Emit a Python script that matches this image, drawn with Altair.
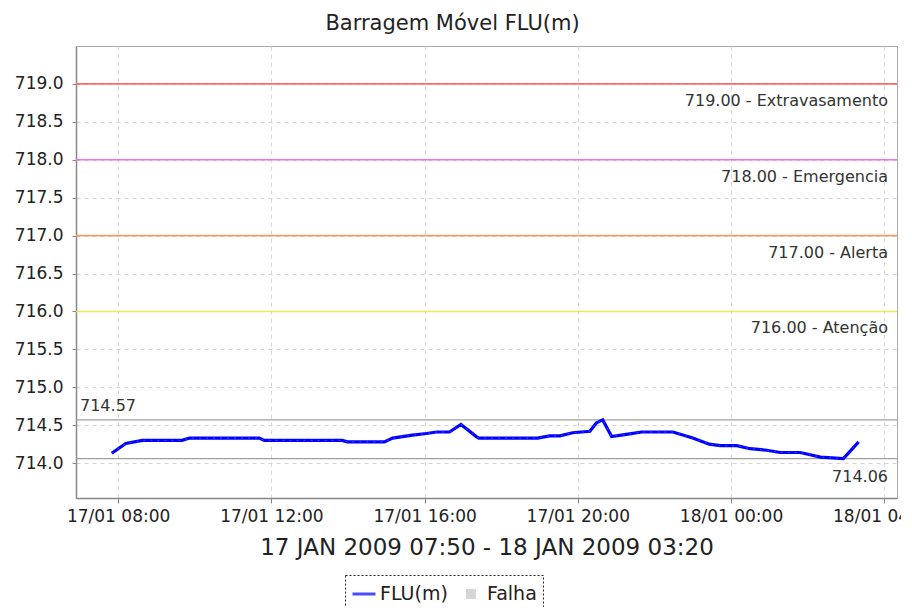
import altair as alt
import pandas as pd

# ---- data ----
times = [
    "2009-01-17T07:50", "2009-01-17T08:12", "2009-01-17T08:38", "2009-01-17T09:40",
    "2009-01-17T09:52", "2009-01-17T11:41", "2009-01-17T11:49", "2009-01-17T13:51",
    "2009-01-17T13:59", "2009-01-17T14:57", "2009-01-17T15:10", "2009-01-17T15:41",
    "2009-01-17T16:03", "2009-01-17T16:19", "2009-01-17T16:39", "2009-01-17T16:57",
    "2009-01-17T17:21", "2009-01-17T17:25", "2009-01-17T18:57", "2009-01-17T19:16",
    "2009-01-17T19:32", "2009-01-17T19:52", "2009-01-17T20:19", "2009-01-17T20:29",
    "2009-01-17T20:39", "2009-01-17T20:53", "2009-01-17T21:16", "2009-01-17T21:40",
    "2009-01-17T22:29", "2009-01-17T23:00", "2009-01-17T23:26", "2009-01-17T23:43",
    "2009-01-18T00:09", "2009-01-18T00:30", "2009-01-18T00:56", "2009-01-18T01:17",
    "2009-01-18T01:48", "2009-01-18T02:04", "2009-01-18T02:20", "2009-01-18T02:56",
    "2009-01-18T03:20",
]
levels = [
    714.13, 714.26, 714.30, 714.30,
    714.33, 714.33, 714.30, 714.30,
    714.28, 714.28, 714.33, 714.37,
    714.39, 714.41, 714.41, 714.51,
    714.35, 714.33, 714.33, 714.36,
    714.36, 714.40, 714.42, 714.53,
    714.57, 714.35, 714.38, 714.41,
    714.41, 714.33, 714.25, 714.23,
    714.23, 714.19, 714.17, 714.14,
    714.14, 714.11, 714.08, 714.06,
    714.28,
]

threshold_values = [719.0, 718.0, 717.0, 716.0]
threshold_labels = ["719.00 - Extravasamento", "718.00 - Emergencia", "717.00 - Alerta", "716.00 - Atenção"]
threshold_colors = ["#ff6a6a", "#f070f0", "#f4a068", "#f4e450"]

max_value, min_value = 714.57, 714.06
legend_items = ["FLU(m)", "Falha"]
legend_colors = ["#0000ff", "#c4c4c4"]

x_start = "2009-01-17T06:54"
x_end = "2009-01-18T04:20"

FONT = "DejaVu Sans"

df = pd.DataFrame({"t": times, "v": levels})
thr = pd.DataFrame({"v": threshold_values, "label": threshold_labels,
                    "color": threshold_colors, "t": [x_end] * 4})
extremes = pd.DataFrame({"v": [max_value, min_value],
                         "label": [f"{max_value:.2f}", f"{min_value:.2f}"],
                         "t": [x_start, x_end]})
leg = pd.DataFrame({"serie": legend_items})

x_scale = alt.Scale(domain=[alt.DateTime(year=2009, month=1, date=17, hours=6, minutes=54),
                            alt.DateTime(year=2009, month=1, date=18, hours=4, minutes=20)])
y_scale = alt.Scale(domain=[713.54, 719.5], nice=False, zero=False)

tick_vals = [alt.DateTime(year=2009, month=1, date=17, hours=h) for h in (8, 12, 16, 20)] + \
            [alt.DateTime(year=2009, month=1, date=18, hours=h) for h in (0, 4)]

x_axis = alt.Axis(values=tick_vals, format="%d/%m %H:%M",
                  title="17 JAN 2009 07:50 - 18 JAN 2009 03:20",
                  titleFontSize=23, titleFont=FONT, titleFontWeight="normal",
                  titleColor="#222", titlePadding=12,
                  labelFontSize=17, labelFont=FONT, labelColor="#222",
                  labelPadding=5, tickSize=5, labelFlush=False)
y_axis = alt.Axis(values=[714 + 0.5 * i for i in range(11)], format=".1f", title=None,
                  labelFontSize=17, labelFont=FONT, labelColor="#222",
                  labelPadding=9, tickSize=4)

base_x = alt.X("t:T", scale=x_scale, axis=x_axis)
base_y = alt.Y("v:Q", scale=y_scale, axis=y_axis)

ext_rules = alt.Chart(extremes).mark_rule(color="#a0a0a0", strokeWidth=1.3).encode(
    y=alt.Y("v:Q", scale=y_scale))

thr_rules = alt.Chart(thr).mark_rule(strokeWidth=1.6).encode(
    y=alt.Y("v:Q", scale=y_scale),
    color=alt.Color("color:N", scale=None))

thr_text = alt.Chart(thr).mark_text(align="right", baseline="middle", dx=-9, dy=17,
                                    fontSize=16, font=FONT, color="#333").encode(
    x=alt.X("t:T", scale=x_scale), y=alt.Y("v:Q", scale=y_scale), text="label:N")

max_text = alt.Chart(extremes.iloc[[0]]).mark_text(align="left", baseline="middle", dx=4, dy=-14,
                                                   fontSize=16, font=FONT, color="#333").encode(
    x=alt.X("t:T", scale=x_scale), y=alt.Y("v:Q", scale=y_scale), text="label:N")
min_text = alt.Chart(extremes.iloc[[1]]).mark_text(align="right", baseline="middle", dx=-9, dy=18,
                                                   fontSize=16, font=FONT, color="#333").encode(
    x=alt.X("t:T", scale=x_scale), y=alt.Y("v:Q", scale=y_scale), text="label:N")

line = alt.Chart(df).mark_line(color="#0000ff", strokeWidth=3.2).encode(x=base_x, y=base_y)
line_dots = alt.Chart(df).mark_line(color="#5050ff", strokeWidth=0.8, strokeDash=[2, 5]).encode(
    x=alt.X("t:T", scale=x_scale), y=alt.Y("v:Q", scale=y_scale))

legend_layer = alt.Chart(leg).mark_point(filled=False, strokeWidth=3).encode(
    x=alt.X("t:T", scale=x_scale),
    color=alt.Color("serie:N", scale=alt.Scale(domain=legend_items, range=legend_colors),
                    legend=alt.Legend(title=None, orient="none", direction="horizontal",
                                      legendX=269, legendY=529)),
    shape=alt.Shape("serie:N", scale=alt.Scale(domain=legend_items,
                                               range=["M-1,0H1",
                                                      "M-0.3,-0.3H0.3V0.3H-0.3Z M-0.1,-0.1H0.1V0.1H-0.1Z"]),
                    legend=alt.Legend(title=None, orient="none", direction="horizontal",
                                      legendX=269, legendY=529)),
).transform_filter("false")

chart = alt.layer(
    ext_rules, thr_rules, line, line_dots, thr_text, max_text, min_text, legend_layer
).properties(
    width=821, height=452,
    title=alt.TitleParams("Barragem Móvel FLU(m)", fontSize=21, font=FONT,
                          fontWeight="normal", color="#222", anchor="middle",
                          dx=-34, offset=12),
    autosize=alt.AutoSizeParams(type="none"),
    padding={"left": 68, "top": 38, "right": 4, "bottom": 109},
).configure_view(
    stroke="#a8a8a8", strokeWidth=1
).configure_axis(
    gridColor="#d4d4d4", gridDash=[4, 4], gridWidth=1,
    domainColor="#888888", domainWidth=1.5, tickColor="#888888"
).configure_legend(
    strokeColor="#222", strokeDash=[2, 2], strokeWidth=1, padding=6,
    labelFontSize=19, labelFont=FONT, labelColor="#222",
    symbolSize=529, symbolStrokeWidth=3, columnPadding=10, symbolOffset=0,
    labelOffset=3
)

chart.save("out.html", embed_options={"renderer": "svg", "actions": False})
